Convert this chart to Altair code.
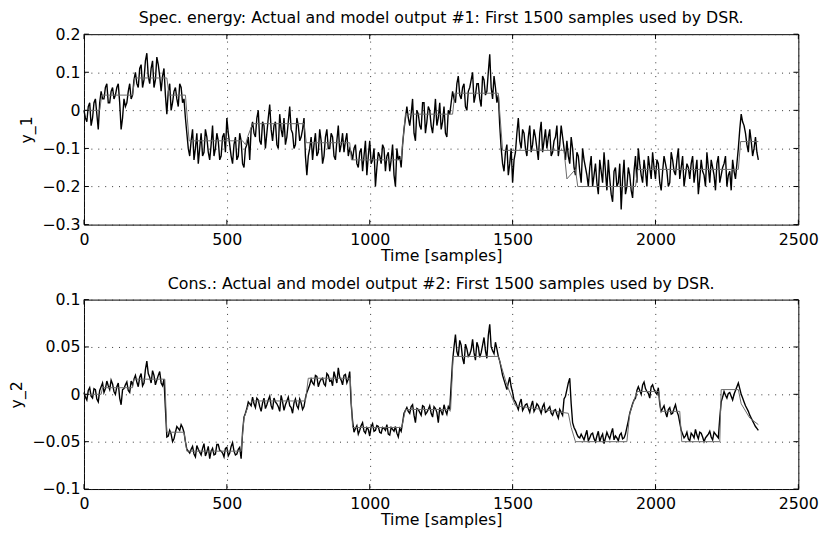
import altair as alt
import pandas as pd

# ---------------- data ----------------
SAMPLE_STEP = 10  # main readings at t = 0, 10, 20, ...; in-between readings at t = 5, 15, 25, ...

Y1_ACTUAL = [
    0.0, -0.03, 0.02, -0.02, 0.03, -0.05,
    0.05, 0.03, 0.07, 0.02, 0.06, 0.04, 0.07,
    -0.05, 0.03,
    0.02, 0.07, 0.04,
    0.10, 0.06, 0.12, 0.08,
    0.15,
    0.07, 0.13, 0.08, 0.12,
    0.05, 0.11,
    -0.01, 0.07,
    0.02, 0.06, 0.01, 0.06,
    0.03,
    -0.06,
    -0.12, -0.05, -0.10, -0.14, -0.06, -0.11, -0.07, -0.13, -0.04, -0.10, -0.08, -0.12, -0.06,
    -0.02, -0.09,
    -0.14, -0.07, -0.12, -0.08, -0.15, -0.09, -0.13,
    -0.03, -0.07, 0.0, -0.09, -0.04, -0.06, 0.015, -0.08, -0.03, -0.10, -0.05, -0.02, -0.07, 0.01,
    -0.06, -0.09, -0.04, -0.07, -0.02,
    -0.17,
    -0.10, -0.13, -0.06, -0.11, -0.08, -0.12, -0.05, -0.10, -0.07, -0.13, -0.04, -0.09, -0.11, -0.06, -0.10,
    -0.13, -0.09, -0.15, -0.10, -0.12, -0.17, -0.08, -0.13, -0.20, -0.11, -0.14, -0.10, -0.12, -0.16,
    -0.09, -0.20, -0.13, -0.15,
    -0.05,
    0.01, -0.04, 0.03, -0.08, -0.01, -0.05, 0.02, -0.03, 0.0, -0.06, 0.03, -0.02, -0.05, 0.01, -0.07, -0.01,
    0.05, 0.02, 0.09, 0.03, 0.07, 0.0, 0.06, 0.10, 0.04, 0.07, 0.01, 0.08, 0.05, 0.147, 0.03, 0.06,
    0.04,
    -0.10, -0.16, -0.09, -0.14, -0.19, -0.11,
    -0.02, -0.10, -0.06, -0.12, -0.04, -0.09, -0.07, -0.13, -0.03, -0.08, -0.10, -0.05, -0.11, -0.07,
    -0.12, -0.04, -0.10,
    -0.08, -0.14, -0.10, -0.17, -0.12, -0.19, -0.13, -0.17, -0.15,
    -0.20, -0.14, -0.22, -0.16, -0.11, -0.21, -0.18, -0.24, -0.15, -0.19, -0.26, -0.13, -0.20, -0.17,
    -0.23, -0.12,
    -0.10, -0.17, -0.13, -0.20, -0.15, -0.11, -0.18, -0.14, -0.21, -0.12, -0.16, -0.19, -0.13, -0.17,
    -0.10, -0.15, -0.20, -0.14, -0.18, -0.12, -0.16, -0.22, -0.13, -0.17, -0.11, -0.19, -0.15, -0.21,
    -0.12, -0.17, -0.14, -0.20, -0.16, -0.13, -0.18,
    -0.10,
    -0.01,
    -0.04, -0.09, -0.05, -0.12, -0.07, -0.13,
]

Y1_ACTUAL_MID = [
    -0.02, 0.01, -0.04, 0.02, -0.01, 0.02,
    0.03, 0.06, 0.02, 0.05, 0.03, 0.06, 0.02,
    -0.02, 0.01,
    0.05, 0.03, 0.08,
    0.07, 0.11, 0.06, 0.13,
    0.09,
    0.11, 0.06, 0.14, 0.09,
    0.09, 0.04,
    0.05, 0.0,
    0.05, 0.03, 0.07, 0.02,
    -0.02,
    -0.10,
    -0.08, -0.13, -0.06, -0.10, -0.12, -0.05, -0.11, -0.09, -0.12, -0.06, -0.13, -0.07, -0.11,
    -0.06, -0.12,
    -0.09, -0.13, -0.06, -0.14, -0.10, -0.07, -0.05,
    -0.06, -0.02, -0.08, -0.03, -0.10, -0.02, -0.05, -0.04, -0.09, -0.01, -0.07, -0.09, -0.03, -0.05,
    -0.10, -0.02, -0.08, -0.05, -0.12,
    -0.12,
    -0.07, -0.09, -0.12, -0.05, -0.14, -0.07, -0.10, -0.06, -0.12, -0.08, -0.11, -0.06, -0.08, -0.12, -0.11,
    -0.10, -0.14, -0.11, -0.16, -0.08, -0.12, -0.14, -0.10, -0.15, -0.12, -0.09, -0.16, -0.11, -0.13,
    -0.17, -0.10, -0.12, -0.09,
    -0.02,
    -0.02, -0.01, -0.06, 0.0, -0.04, 0.02, -0.06, 0.01, -0.04, -0.02, -0.04, 0.02, -0.03, -0.06, 0.0, 0.02,
    0.03, 0.07, 0.04, 0.06, 0.01, 0.05, 0.08, 0.02, 0.07, 0.03, 0.09, 0.04, 0.10, 0.06, 0.09, 0.02,
    -0.04,
    -0.14, -0.11, -0.17, -0.10, -0.13, -0.06,
    -0.08, -0.05, -0.10, -0.07, -0.11, -0.05, -0.10, -0.06, -0.11, -0.05, -0.07, -0.12, -0.08, -0.04,
    -0.09, -0.07, -0.13,
    -0.12, -0.07, -0.15, -0.11, -0.16, -0.10, -0.15, -0.20, -0.12,
    -0.17, -0.19, -0.13, -0.19, -0.16, -0.13, -0.22, -0.16, -0.20, -0.14, -0.18, -0.22, -0.15, -0.21,
    -0.16, -0.19,
    -0.14, -0.19, -0.16, -0.12, -0.18, -0.15, -0.13, -0.19, -0.16, -0.14, -0.20, -0.11, -0.16, -0.13,
    -0.18, -0.12, -0.17, -0.15, -0.14, -0.19, -0.13, -0.18, -0.16, -0.20, -0.15, -0.13, -0.17, -0.14,
    -0.19, -0.15, -0.12, -0.17, -0.21, -0.16, -0.14,
    -0.05,
    -0.03,
    -0.06, -0.11, -0.08, -0.10, -0.11,
]

Y2_ACTUAL = [
    0.002, -0.006, 0.007, -0.004, 0.005, -0.008,
    0.008, 0.002, 0.014, 0.005, 0.011,
    0.0, 0.012, -0.011,
    0.006, 0.013, 0.002, 0.010,
    0.020, 0.008, 0.022, 0.012,
    0.035,
    0.018, 0.025, 0.010, 0.020, 0.012, 0.016,
    -0.045,
    -0.038, -0.050, -0.040,
    -0.036, -0.032, -0.040,
    -0.058,
    -0.062, -0.055, -0.066, -0.058, -0.064, -0.052, -0.061, -0.068, -0.057, -0.063, -0.053, -0.060,
    -0.066, -0.056, -0.062, -0.051, -0.064, -0.058, -0.068,
    -0.024, -0.015, -0.010,
    -0.003, -0.014, -0.006, -0.018, -0.004, -0.011, -0.002, -0.016, -0.008, -0.013, -0.001, -0.017,
    -0.007, -0.012, -0.020, -0.005, -0.015, -0.009, -0.013,
    0.002, 0.010,
    0.012, 0.020, 0.008, 0.016, 0.011, 0.022, 0.014, 0.009, 0.018, 0.028, 0.015, 0.020, 0.012, 0.024,
    -0.028, -0.036, -0.042, -0.033, -0.039, -0.035, -0.044, -0.031, -0.038, -0.034, -0.041, -0.036,
    -0.032, -0.043, -0.037, -0.034, -0.045, -0.039,
    -0.020,
    -0.014, -0.020, -0.011, -0.030, -0.016, -0.022, -0.013, -0.019, -0.012, -0.024, -0.015, -0.030,
    -0.018, -0.011, -0.021, -0.016,
    0.035, 0.063, 0.040, 0.052, 0.032, 0.048, 0.042, 0.058, 0.036, 0.050, 0.044, 0.060, 0.038, 0.074,
    0.046, 0.055,
    0.040, 0.028, 0.015,
    0.005, 0.018, 0.002,
    -0.008, -0.016, -0.005, -0.014, -0.010, -0.019, -0.007, -0.015, -0.012, -0.020, -0.010, -0.018,
    -0.013, -0.022, -0.016, -0.025, -0.019,
    -0.005, 0.005, 0.017,
    -0.030, -0.038, -0.045,
    -0.042, -0.048, -0.038, -0.046, -0.041, -0.050, -0.039, -0.045, -0.052, -0.040, -0.047, -0.036,
    -0.044, -0.049, -0.041, -0.046,
    -0.035, -0.020, -0.010, -0.004,
    0.008, 0.0, 0.013, 0.003, -0.004, 0.010, 0.002, 0.007,
    -0.018, -0.012, -0.024, -0.014, -0.020, -0.011, -0.022,
    -0.038, -0.046, -0.040, -0.049, -0.043, -0.037, -0.047, -0.041, -0.050, -0.044, -0.039, -0.048,
    -0.042, -0.046,
    -0.008, 0.003, -0.004, 0.002, -0.006, 0.004,
    0.012,
    0.0, -0.008, -0.015, -0.022, -0.028, -0.034, -0.038,
]

Y2_ACTUAL_MID = [
    -0.003, 0.004, -0.002, 0.006, -0.005, 0.004,
    0.012, 0.006, 0.009, 0.015, 0.003,
    0.008, -0.004, 0.005,
    0.010, 0.004, 0.014, 0.016,
    0.013, 0.018, 0.009, 0.026,
    0.022,
    0.012, 0.020, 0.015, 0.024, 0.009, -0.015,
    -0.044, -0.042, -0.047,
    -0.034, -0.038, -0.035,
    -0.050,
    -0.060,
    -0.058, -0.063, -0.054, -0.061, -0.057, -0.065, -0.055, -0.060, -0.064, -0.053, -0.059, -0.062,
    -0.057, -0.065, -0.055, -0.060, -0.063, -0.056,
    -0.040,
    -0.020, -0.008,
    -0.012,
    -0.010, -0.004, -0.013, -0.009, -0.015, -0.006, -0.012, -0.004, -0.010, -0.018, -0.008, -0.011,
    -0.003, -0.014, -0.009, -0.012, -0.005, -0.016, -0.004,
    0.006,
    0.016, 0.010, 0.019, 0.013, 0.017, 0.009, 0.020, 0.015, 0.024, 0.012, 0.018, 0.010, 0.021, 0.016,
    -0.010,
    -0.040, -0.033, -0.038, -0.030, -0.041, -0.037, -0.034, -0.039, -0.033, -0.040, -0.035, -0.038,
    -0.042, -0.035, -0.039, -0.041, -0.036, -0.030,
    -0.017,
    -0.018, -0.013, -0.022, -0.015, -0.019, -0.012, -0.021, -0.016, -0.020, -0.013, -0.019, -0.014,
    -0.022, -0.017, -0.013, 0.010,
    0.050, 0.045, 0.057, 0.038, 0.053, 0.040, 0.047, 0.044, 0.055, 0.039, 0.052, 0.046, 0.062, 0.050,
    0.043, 0.048,
    0.035, 0.020, 0.010,
    0.012, 0.008, -0.006,
    -0.012, -0.009, -0.017, -0.011, -0.015, -0.012, -0.018, -0.010, -0.016, -0.013, -0.019, -0.015,
    -0.020, -0.017, -0.021, -0.016, -0.022,
    -0.002, 0.012, -0.010,
    -0.035, -0.042, -0.046,
    -0.045, -0.043, -0.049, -0.042, -0.047, -0.044, -0.050, -0.042, -0.046, -0.044, -0.041, -0.048,
    -0.046, -0.043, -0.047, -0.042,
    -0.028, -0.015, -0.006, 0.004,
    0.004, 0.010, 0.006, 0.001, 0.008, 0.005, 0.0, -0.010,
    -0.015, -0.019, -0.016, -0.021, -0.015, -0.018, -0.030,
    -0.042, -0.044, -0.047, -0.041, -0.046, -0.043, -0.040, -0.045, -0.046, -0.042, -0.045, -0.040,
    -0.044, -0.025,
    -0.003, -0.001, 0.001, -0.002, 0.0, 0.008,
    0.006,
    -0.004, -0.012, -0.018, -0.025, -0.031, -0.036,
]

# model output: vertices of the smoother grey line
Y1_MODEL_T = [0, 55, 62, 170, 178, 290, 298, 355, 368, 555, 565, 575, 590, 770, 778, 930, 936,
              1110, 1125, 1290, 1298, 1450, 1465, 1680, 1690, 1720, 1728, 1930, 1938, 2290, 2298, 2360]
Y1_MODEL_V = [0.0, 0.0, 0.04, 0.04, 0.085, 0.085, 0.04, 0.04, -0.08, -0.08, -0.09, -0.065, -0.035,
              -0.035, -0.085, -0.085, -0.13, -0.13, -0.01, -0.01, 0.045, 0.045, -0.105, -0.105, -0.18,
              -0.155, -0.2, -0.2, -0.155, -0.155, -0.082, -0.082]

Y2_MODEL_T = [0, 60, 65, 170, 175, 283, 290, 350, 360, 550, 560, 575, 590, 775, 785, 932, 940,
              1112, 1125, 1283, 1292, 1450, 1460, 1480, 1500, 1510, 1695, 1705, 1720, 1900, 1910,
              1935, 2012, 2018, 2085, 2092, 2225, 2230, 2290, 2300, 2330, 2360]
Y2_MODEL_V = [0.0, 0.0, 0.007, 0.007, 0.016, 0.016, -0.04, -0.04, -0.06, -0.06, -0.025, -0.012,
              -0.007, -0.007, 0.017, 0.017, -0.035, -0.035, -0.016, -0.016, 0.04, 0.04, 0.03, 0.01,
              -0.005, -0.012, -0.02, -0.035, -0.05, -0.05, -0.02, 0.003, 0.003, -0.018, -0.018,
              -0.05, -0.05, 0.005, 0.005, -0.01, -0.025, -0.032]

X_TICKS = [0, 500, 1000, 1500, 2000, 2500]
Y1_TICKS = [-0.3, -0.2, -0.1, 0, 0.1, 0.2]
Y2_TICKS = [-0.1, -0.05, 0, 0.05, 0.1]

TITLE1 = "Spec. energy: Actual and model output #1: First 1500 samples used by DSR."
TITLE2 = "Cons.: Actual and model output #2: First 1500 samples used by DSR."
YLABEL1 = "y_1"
YLABEL2 = "y_2"
XLABEL = "Time [samples]"

# ---------------- styling ----------------
W = 724
FONT = "DejaVu Sans"
FS = 16


def series_frame(main, mid):
    t = [i * SAMPLE_STEP for i in range(len(main))] + \
        [SAMPLE_STEP // 2 + i * SAMPLE_STEP for i in range(len(mid))]
    df = pd.DataFrame({"t": t, "v": list(main) + list(mid)})
    return df.sort_values("t").reset_index(drop=True)


def panel(main, mid, mt, mv, yticks, ydomain, yfmt, title, ylabel, H):
    df = series_frame(main, mid)
    dm = pd.DataFrame({"t": mt, "v": mv})
    xs = alt.Scale(domain=[0, 2500], nice=False, zero=False)
    ys = alt.Scale(domain=ydomain, nice=False, zero=False)
    xax = alt.Axis(values=X_TICKS, title=XLABEL, format="d", labelPadding=7, titlePadding=0)
    yax = alt.Axis(values=yticks, title=ylabel, format=yfmt, labelPadding=4, titlePadding=7)
    X = alt.X("t:Q", scale=xs, axis=xax)
    Y = alt.Y("v:Q", scale=ys, axis=yax)

    actual_line = alt.Chart(df).mark_line(color="black", strokeWidth=1.4).encode(
        x=X, y=Y, order="t:Q")
    model_line = alt.Chart(dm).mark_line(color="#6a6a6a", strokeWidth=1).encode(x=X, y=Y)

    xt = pd.DataFrame({"t": X_TICKS})
    yt = pd.DataFrame({"v": yticks})
    tk = dict(color="black", strokeWidth=1)
    top_t = alt.Chart(xt).mark_rule(**tk).encode(x=X, y=alt.value(0), y2=alt.value(5))
    bot_t = alt.Chart(xt).mark_rule(**tk).encode(x=X, y=alt.value(H - 5), y2=alt.value(H))
    left_t = alt.Chart(yt).mark_rule(**tk).encode(y=Y, x=alt.value(0), x2=alt.value(5))
    right_t = alt.Chart(yt).mark_rule(**tk).encode(y=Y, x=alt.value(W - 5), x2=alt.value(W))
    return alt.layer(actual_line, model_line, top_t, bot_t, left_t, right_t).properties(
        width=W, height=H,
        title=alt.TitleParams(title, anchor="middle", offset=0))


p1 = panel(Y1_ACTUAL, Y1_ACTUAL_MID, Y1_MODEL_T, Y1_MODEL_V, Y1_TICKS, [-0.3, 0.2], ".1~f",
           TITLE1, YLABEL1, 193)
p2 = panel(Y2_ACTUAL, Y2_ACTUAL_MID, Y2_MODEL_T, Y2_MODEL_V, Y2_TICKS, [-0.1, 0.1], ".2~f",
           TITLE2, YLABEL2, 192)

chart = alt.vconcat(p1, p2, spacing=11).properties(
    padding={"left": 0, "top": -2, "right": 5, "bottom": 0}
).configure(background="white").configure_view(
    stroke="black", strokeWidth=1
).configure_axis(
    grid=True, gridDash=[1, 6], gridColor="#333", gridWidth=1, domain=False,
    ticks=False, tickSize=0, labelFontSize=FS, titleFontSize=FS, labelFont=FONT,
    titleFont=FONT, labelColor="black", titleColor="black", titleFontWeight="normal",
    labelFlush=False, labelOverlap=False
).configure_title(
    font=FONT, fontSize=FS, fontWeight="normal", color="black"
)

chart.save("out.html", embed_options={"renderer": "svg", "actions": False})
